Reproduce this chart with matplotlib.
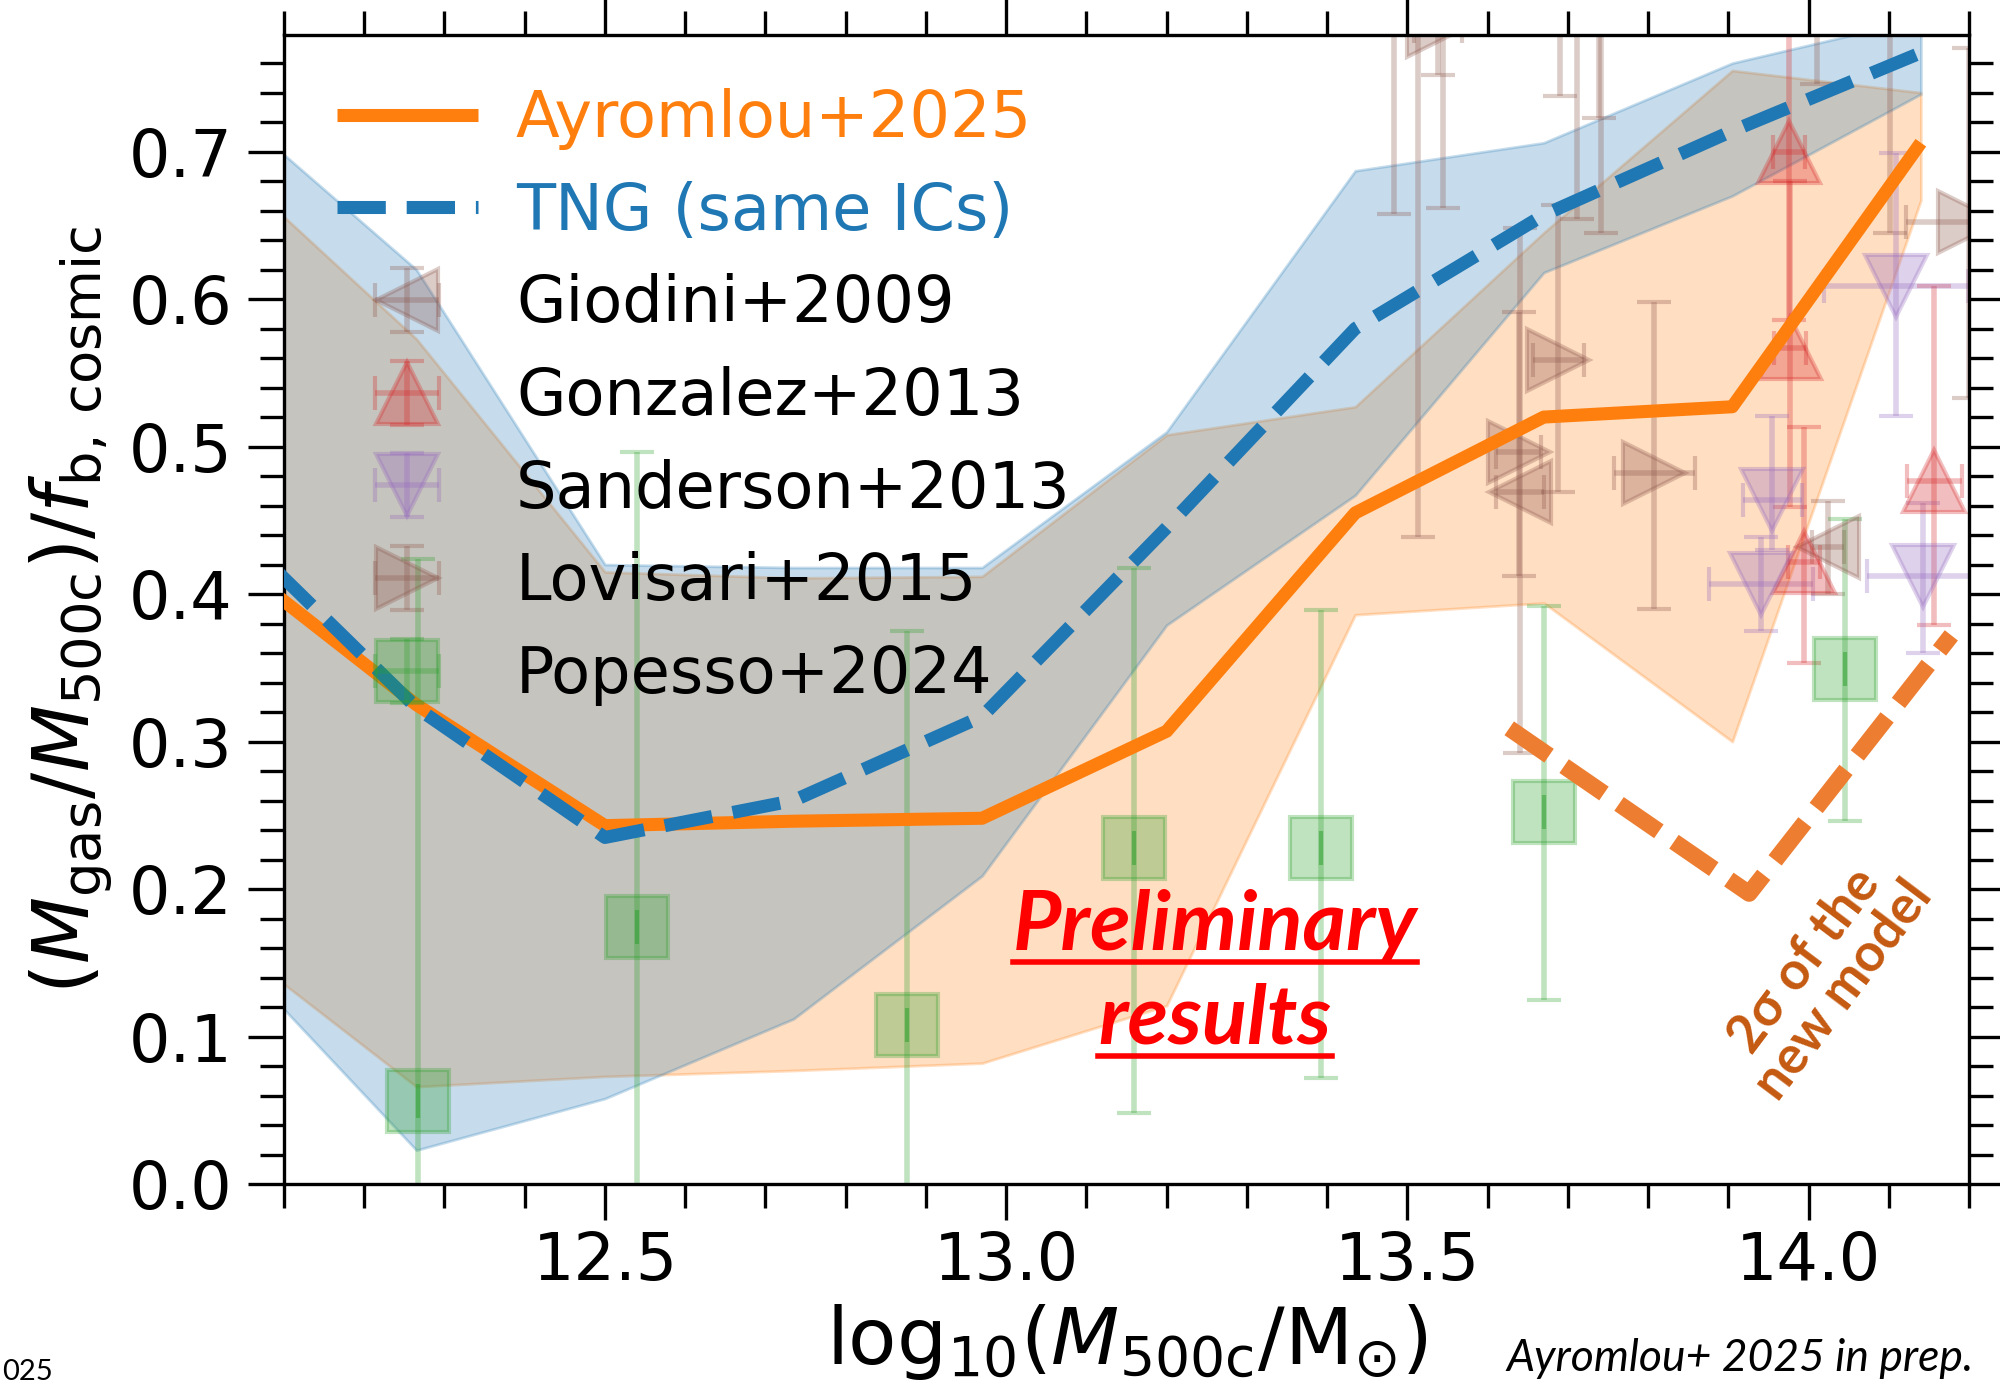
import numpy as np
import matplotlib
matplotlib.use('Agg')
import matplotlib.pyplot as plt
from matplotlib.ticker import MultipleLocator
from matplotlib.lines import Line2D

# ---------------- model curves (halo-mass bin centres) ----------------
log_m = [12.03, 12.265, 12.5, 12.735, 12.97, 13.20, 13.435, 13.67, 13.905, 14.14]
ayromlou_med = [0.425, 0.325, 0.243, 0.246, 0.248, 0.307, 0.455, 0.520, 0.527, 0.706]
ayromlou_lo = [0.165, 0.066, 0.073, 0.077, 0.082, 0.121, 0.386, 0.394, 0.300, 0.667]
ayromlou_hi = [0.691, 0.573, 0.415, 0.411, 0.412, 0.508, 0.527, 0.645, 0.755, 0.740]
tng_med = [0.448, 0.323, 0.235, 0.260, 0.317, 0.445, 0.580, 0.657, 0.714, 0.767]
tng_lo = [0.159, 0.023, 0.058, 0.112, 0.209, 0.379, 0.467, 0.618, 0.670, 0.739]
tng_hi = [0.731, 0.620, 0.420, 0.418, 0.418, 0.510, 0.687, 0.706, 0.760, 0.790]

# ---------------- observations ----------------
# Giodini+2009
gio_x = [13.640, 14.024, 13.484, 13.513, 13.544, 13.690, 13.712, 13.739, 13.741, 14.010, 14.101]
gio_y = [0.469, 0.432, 0.860, 0.900, 0.900, 0.850, 0.860, 0.850, 0.880, 0.850, 0.860]
gio_lo = [0.292, 0.400, 0.658, 0.439, 0.662, 0.738, 0.654, 0.723, 0.645, 0.746, 0.645]
gio_hi = [0.648, 0.463, 0.950, 0.990, 0.990, 0.950, 0.950, 0.950, 0.950, 0.950, 0.950]
gio_xerr = [0.030, 0.020, 0.020, 0.020, 0.020, 0.020, 0.020, 0.020, 0.020, 0.020, 0.020]
# Gonzalez+2013
gon_x = [13.976, 13.977, 13.994, 14.157]
gon_y = [0.700, 0.567, 0.422, 0.477]
gon_lo = [0.586, 0.459, 0.353, 0.379]
gon_hi = [0.850, 0.680, 0.513, 0.609]
gon_xerr = [0.020, 0.020, 0.020, 0.034]
# Sanderson+2013
san_x = [14.109, 13.955, 13.941, 14.143]
san_y = [0.609, 0.464, 0.407, 0.412]
san_lo = [0.521, 0.430, 0.375, 0.360]
san_hi = [0.699, 0.521, 0.439, 0.462]
san_xerr = [0.090, 0.037, 0.065, 0.070]
# Lovisari+2015
lov_x = [13.639, 13.688, 13.808, 14.200, 13.538]
lov_y = [0.496, 0.559, 0.482, 0.652, 0.785]
lov_lo = [0.412, 0.469, 0.390, 0.533, 0.752]
lov_hi = [0.591, 0.664, 0.598, 0.770, 0.850]
lov_xerr = [0.028, 0.032, 0.051, 0.078, 0.030]
# Popesso+2024
pop_x = [12.267, 12.540, 12.876, 13.159, 13.392, 13.670, 14.045]
pop_y = [0.056, 0.174, 0.108, 0.228, 0.228, 0.252, 0.349]
pop_lo = [-0.10, -0.10, -0.10, 0.048, 0.072, 0.125, 0.246]
pop_hi = [0.424, 0.496, 0.375, 0.418, 0.389, 0.392, 0.451]
pop_xerr = [0, 0, 0, 0, 0, 0, 0]

# slide annotation: dashed "2 sigma" V
sig_x = [13.627, 13.926, 14.178]
sig_y = [0.309, 0.197, 0.372]

xlim = (12.1, 14.2)
ylim = (0.0, 0.779)

plt.rcParams['font.family'] = ['DejaVu Sans']
plt.rcParams['mathtext.fontset'] = 'dejavusans'

fig = plt.figure(figsize=(10, 6.93), dpi=200)
ax = fig.add_axes([0.142, 0.1457, 0.9845 - 0.142, 0.9747 - 0.1457])

C0, C1, C2, C3, C4, C5 = '#1f77b4', '#ff7f0e', '#2ca02c', '#d62728', '#9467bd', '#8c564b'

ax.fill_between(log_m, ayromlou_lo, ayromlou_hi, color=C1, alpha=0.25, lw=1.0, zorder=1)
ax.fill_between(log_m, tng_lo, tng_hi, color=C0, alpha=0.25, lw=1.0, zorder=1)
l1, = ax.plot(log_m, ayromlou_med, color=C1, lw=4.7, solid_capstyle='butt', zorder=3,
              label='Ayromlou+2025')
l2, = ax.plot(log_m, tng_med, color=C0, lw=4.7, ls='--', dash_capstyle='butt', zorder=3,
              label='TNG (same ICs)')


def ebar(x, y, lo, hi, xerr, marker, color, label):
    x = np.asarray(x, float)
    y = np.asarray(y, float)
    yerr = np.vstack([y - np.asarray(lo, float), np.asarray(hi, float) - y])
    return ax.errorbar(x, y, yerr=yerr, xerr=xerr, fmt=marker, color=color, ms=22,
                       mew=1.5, alpha=0.3, elinewidth=2.0, capsize=6, capthick=1.2,
                       label=label, zorder=2)


ebar(gio_x, gio_y, gio_lo, gio_hi, gio_xerr, '<', C5, 'Giodini+2009')
ebar(gon_x, gon_y, gon_lo, gon_hi, gon_xerr, '^', C3, 'Gonzalez+2013')
ebar(san_x, san_y, san_lo, san_hi, san_xerr, 'v', C4, 'Sanderson+2013')
ebar(lov_x, lov_y, lov_lo, lov_hi, lov_xerr, '>', C5, 'Lovisari+2015')
ebar(pop_x, pop_y, pop_lo, pop_hi, pop_xerr, 's', C2, 'Popesso+2024')

ax.set_xlim(*xlim)
ax.set_ylim(*ylim)
ax.xaxis.set_major_locator(MultipleLocator(0.5))
ax.xaxis.set_minor_locator(MultipleLocator(0.1))
ax.yaxis.set_major_locator(MultipleLocator(0.1))
ax.yaxis.set_minor_locator(MultipleLocator(0.02))
ax.tick_params(which='both', direction='out', top=True, right=True, width=1.2,
               labelsize=23.5)
ax.tick_params(which='major', length=13)
ax.tick_params(which='minor', length=8.6)
ax.tick_params(axis='x', which='major', pad=3.5)
ax.tick_params(axis='y', which='major', pad=5.5)
for s in ax.spines.values():
    s.set_linewidth(1.2)

ax.set_xlabel(r'$\mathrm{log}_{10}(M_\mathrm{500c}/\mathrm{M}_{\odot})$', fontsize=28.5,
              labelpad=3)
ax.set_ylabel(r'$(M_\mathrm{gas}/M_\mathrm{500c})/f_\mathrm{b,\,cosmic}$', fontsize=28,
              labelpad=5)

leg = ax.legend(loc='upper left', frameon=False, fontsize=23, handlelength=2.2,
                handletextpad=0.6, labelspacing=0.48, borderaxespad=0.43, borderpad=0.4)
texts = leg.get_texts()
texts[0].set_color(C1)
texts[1].set_color(C0)

# ---- slide overlays ----
ax.plot(sig_x, sig_y, color='#ED7D31', lw=6, ls=(0, (2.9, 1.1)), dash_capstyle='butt',
        zorder=5)

fam = ['Lato', 'DejaVu Sans']
fs_pre = 30
t1 = fig.text(0.6075, 0.3146, 'Preliminary', color='red', fontsize=fs_pre,
              fontweight='bold', style='italic', family=fam, ha='center', va='baseline')
t2 = fig.text(0.6075, 0.2474, 'results', color='red', fontsize=fs_pre, fontweight='bold',
              style='italic', family=fam, ha='center', va='baseline')
fig.text(0.912, 0.296, '2σ of the\nnew model', color='#C55A11', fontsize=19,
         fontweight='bold', family=fam, ha='center', va='center', rotation=53,
         rotation_mode='anchor', linespacing=1.0, multialignment='center')
fig.text(0.987, 0.0108, 'Ayromlou+ 2025 in prep.', fontsize=16, style='italic',
         family=fam, ha='right', va='baseline')
fig.text(0.001, 0.004, '025', fontsize=10.5, family=fam, ha='left', va='baseline')

fig.canvas.draw()
r = fig.canvas.get_renderer()
off = 0.15 * fs_pre / 72 * 200 / fig.bbox.height  # underline offset below baseline
for t in (t1, t2):
    bb = t.get_window_extent(r).transformed(fig.transFigure.inverted())
    yline = t.get_position()[1] - off
    fig.add_artist(Line2D([bb.x0, bb.x1], [yline, yline], color='red', lw=2.0,
                          transform=fig.transFigure))

fig.savefig('out.png', dpi=200)
